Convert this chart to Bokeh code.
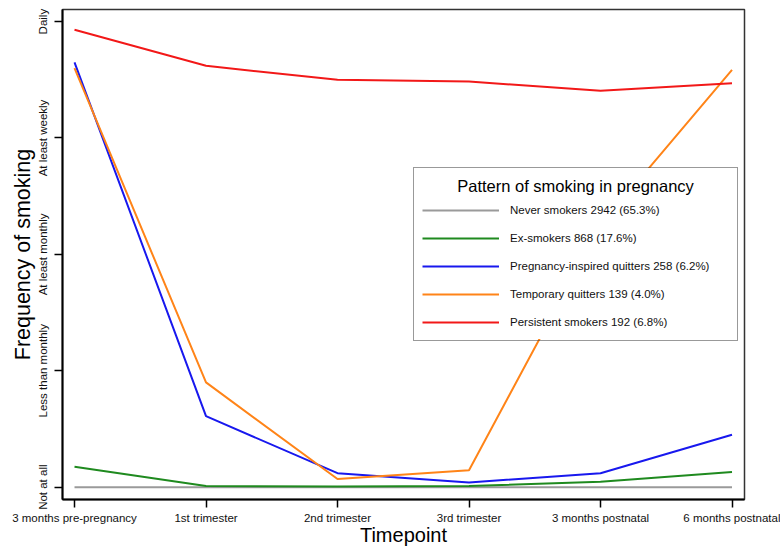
import math
from bokeh.plotting import figure
from bokeh.models import (ColumnDataSource, Range1d, FixedTicker, Legend, LegendItem, Label,
                          BoxAnnotation)
from bokeh.embed import file_html
from bokeh.resources import INLINE

# ---- data ----
timepoints = ["3 months pre-pregnancy", "1st trimester", "2nd trimester",
              "3rd trimester", "3 months postnatal", "6 months postnatal"]
freq_levels = ["Not at all", "Less than monthly", "At least monthly", "At least weekly", "Daily"]

series_names = ["Never smokers 2942 (65.3%)", "Ex-smokers 868 (17.6%)",
                "Pregnancy-inspired quitters 258 (6.2%)", "Temporary quitters 139 (4.0%)",
                "Persistent smokers 192 (6.8%)"]
never_smokers = [0.0, 0.0, 0.0, 0.0, 0.0, 0.0]
ex_smokers = [0.175, 0.01, 0.005, 0.01, 0.046, 0.13]
pregnancy_inspired = [3.65, 0.61, 0.12, 0.04, 0.12, 0.45]
temporary_quitters = [3.60, 0.90, 0.07, 0.145, 2.25, 3.585]
persistent_smokers = [3.93, 3.62, 3.50, 3.485, 3.405, 3.47]

series_values = [never_smokers, ex_smokers, pregnancy_inspired, temporary_quitters, persistent_smokers]
series_colors = ["#9a9a9a", "#1f8a1f", "#1818ee", "#ff8418", "#f21818"]

FONT = "Liberation Sans"

p = figure(width=780, height=548, output_backend="svg", toolbar_location=None,
           x_range=Range1d(-0.0913, 5.095), y_range=Range1d(-0.106, 4.104),
           min_border_left=62, min_border_right=36, min_border_top=9, min_border_bottom=48,
           x_axis_label="Timepoint", y_axis_label="Frequency of smoking")
p.background_fill_color = "white"
p.border_fill_color = "white"
p.outline_line_color = "#333333"
p.outline_line_width = 1.5
p.xgrid.visible = False
p.ygrid.visible = False

x_idx = list(range(len(timepoints)))
renderers = []
for name, vals, col in zip(series_names, series_values, series_colors):
    src = ColumnDataSource(dict(x=x_idx, y=vals))
    r = p.line("x", "y", source=src, line_color=col, line_width=2)
    renderers.append(r)

# axes
for ax in (p.xaxis[0], p.yaxis[0]):
    ax.axis_line_color = "black"
    ax.axis_line_width = 2
    ax.major_tick_line_color = "black"
    ax.major_tick_line_width = 1.5
    ax.major_tick_out = 8
    ax.major_tick_in = 0
    ax.minor_tick_line_color = None
    ax.major_label_text_font = FONT
    ax.major_label_text_font_size = "11.5px"
    ax.major_label_text_color = "#111111"
    ax.axis_label_text_font = FONT
    ax.axis_label_text_font_style = "normal"
    ax.axis_label_text_color = "black"

p.xaxis[0].ticker = FixedTicker(ticks=x_idx)
p.xaxis[0].major_label_overrides = {i: t for i, t in enumerate(timepoints)}
p.xaxis[0].major_label_standoff = 4
p.xaxis[0].axis_label_text_font_size = "20px"
p.xaxis[0].axis_label_standoff = -3

p.yaxis[0].ticker = FixedTicker(ticks=list(range(len(freq_levels))))
p.yaxis[0].major_label_overrides = {i: t for i, t in enumerate(freq_levels)}
p.yaxis[0].major_label_orientation = "vertical"
p.yaxis[0].major_label_standoff = 5
p.yaxis[0].axis_label_text_font_size = "21.5px"
p.yaxis[0].axis_label_standoff = 0

# white panel behind the (transparent) legend, masking the lines
legend_bg = BoxAnnotation(left=2.585, right=5.035, top=2.742, bottom=1.272,
                          fill_color="white", fill_alpha=1.0, line_color=None,
                          level="annotation")
p.add_layout(legend_bg)

# legend title
legend_title = Label(x=3.81, y=2.586, text="Pattern of smoking in pregnancy", level="overlay",
                     text_font=FONT, text_font_size="16.5px", text_color="black",
                     text_align="center", text_baseline="middle")
p.add_layout(legend_title)

# legend
items = [LegendItem(label=n, renderers=[r]) for n, r in zip(series_names, renderers)]
legend = Legend(items=items, location=(351, 158), orientation="vertical",
                title="\u00a0", title_text_font_size="16px", title_standoff=6,
                title_text_font=FONT,
                padding=8, spacing=8, margin=0,
                glyph_width=77, glyph_height=20, label_height=20, label_width=219,
                label_standoff=11, label_text_font=FONT, label_text_font_size="11.5px",
                label_text_color="#111111",
                border_line_color="#333333", border_line_width=1.5,
                background_fill_alpha=0.0)
p.add_layout(legend)

open("out.html", "w").write(file_html(p, INLINE))
